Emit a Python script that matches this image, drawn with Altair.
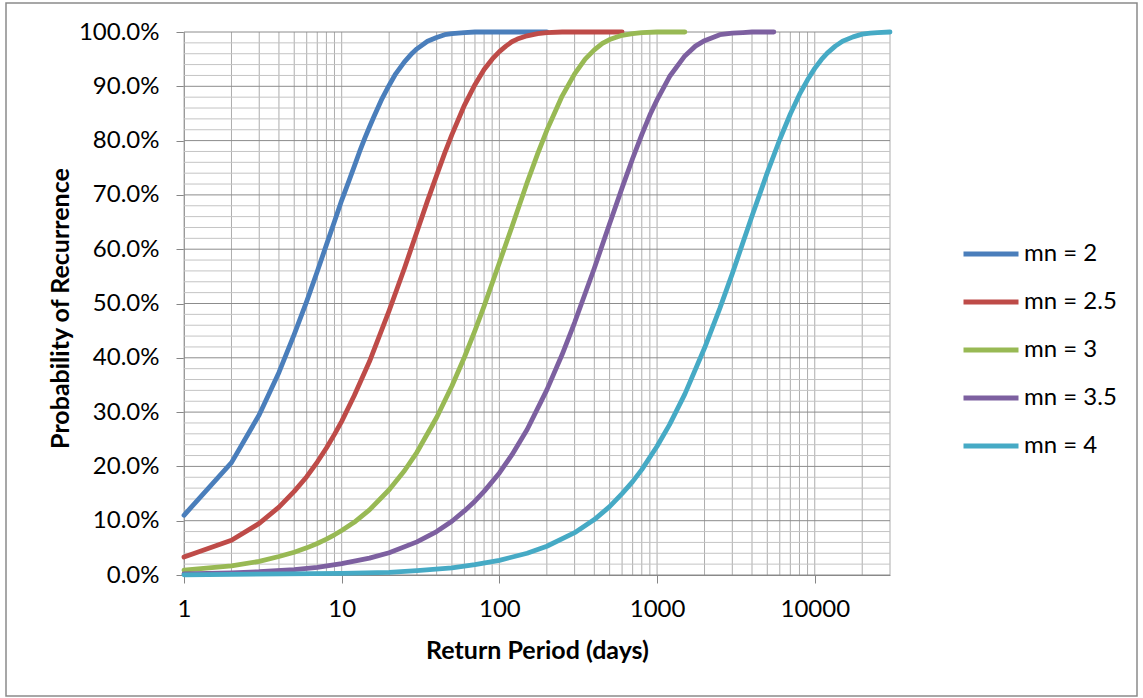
import altair as alt
import pandas as pd

# ---- data ----
SERIES = ["mn = 2", "mn = 2.5", "mn = 3", "mn = 3.5", "mn = 4"]
COLORS = ["#4A7EBB", "#BE4B48", "#98B954", "#7D60A0", "#46AAC5"]

T_MN2 = [1, 2, 3, 4, 5, 6, 7, 8, 9, 10, 11, 12, 13, 14, 15, 16, 18, 20, 22, 25, 28, 30, 35,
         40, 45, 50, 60, 70, 80, 100, 150, 200]
P_MN2 = [0.110, 0.207, 0.295, 0.373, 0.443, 0.504, 0.559, 0.608, 0.651, 0.690, 0.722, 0.752,
         0.780, 0.804, 0.825, 0.844, 0.877, 0.902, 0.923, 0.945, 0.961, 0.969, 0.983, 0.990,
         0.995, 0.997, 0.999, 1.0, 1.0, 1.0, 1.0, 1.0]

T_MN25 = [1, 2, 3, 4, 5, 6, 7, 8, 9, 10, 12, 15, 20, 25, 30, 35, 40, 45, 50, 60, 70, 80, 90,
          100, 110, 120, 130, 150, 175, 200, 250, 300, 400, 500, 600]
P_MN25 = [0.033, 0.064, 0.095, 0.125, 0.154, 0.181, 0.208, 0.234, 0.259, 0.283, 0.330, 0.393,
          0.487, 0.565, 0.632, 0.689, 0.736, 0.777, 0.811, 0.865, 0.903, 0.931, 0.950, 0.964,
          0.974, 0.982, 0.987, 0.993, 0.997, 0.999, 1.0, 1.0, 1.0, 1.0, 1.0]

T_MN3 = [1, 2, 3, 4, 5, 6, 7, 8, 9, 10, 12, 15, 20, 25, 30, 40, 50, 60, 70, 80, 100, 120,
         150, 175, 200, 250, 300, 350, 400, 450, 500, 600, 700, 800, 1000, 1200, 1500]
P_MN3 = [0.009, 0.017, 0.025, 0.034, 0.042, 0.050, 0.058, 0.066, 0.074, 0.082, 0.097, 0.120,
         0.157, 0.192, 0.226, 0.290, 0.348, 0.401, 0.450, 0.495, 0.575, 0.641, 0.723, 0.776,
         0.819, 0.882, 0.923, 0.950, 0.967, 0.979, 0.986, 0.994, 0.997, 0.999, 1.0, 1.0, 1.0]

T_MN35 = [1, 2, 3, 5, 7, 10, 15, 20, 30, 40, 50, 60, 70, 80, 100, 120, 150, 200, 250, 300,
          400, 500, 600, 700, 800, 900, 1000, 1200, 1500, 1750, 2000, 2500, 3000, 3500, 4000,
          5000, 5500]
P_MN35 = [0.002, 0.004, 0.006, 0.010, 0.014, 0.021, 0.031, 0.041, 0.061, 0.080, 0.099, 0.118,
          0.136, 0.154, 0.188, 0.221, 0.268, 0.341, 0.406, 0.465, 0.565, 0.647, 0.713, 0.767,
          0.811, 0.847, 0.875, 0.918, 0.956, 0.974, 0.984, 0.995, 0.998, 0.999, 1.0, 1.0, 1.0]

T_MN4 = [1, 10, 20, 30, 50, 70, 100, 150, 200, 300, 400, 500, 600, 700, 800, 1000, 1200, 1500,
         2000, 2500, 3000, 4000, 5000, 6000, 7000, 8000, 9000, 10000, 11000, 12000, 13500,
         15000, 17500, 20000, 22500, 25000, 30000]
P_MN4 = [0.0003, 0.003, 0.005, 0.008, 0.013, 0.019, 0.027, 0.040, 0.053, 0.078, 0.102, 0.126,
         0.150, 0.172, 0.194, 0.237, 0.277, 0.333, 0.418, 0.491, 0.555, 0.661, 0.741, 0.802,
         0.849, 0.885, 0.912, 0.933, 0.949, 0.961, 0.974, 0.983, 0.991, 0.996, 0.998, 0.999,
         1.0]

X_TICKS = [1, 10, 100, 1000, 10000]
X_GRID = [1, 2, 3, 4, 5, 6, 7, 8, 9, 10, 20, 30, 40, 50, 60, 70, 80, 90, 100, 200, 300, 400,
          500, 600, 700, 800, 900, 1000, 2000, 3000, 4000, 5000, 6000, 7000, 8000, 9000,
          10000, 20000, 30000]
Y_MAJOR = [0.0, 0.1, 0.2, 0.3, 0.4, 0.5, 0.6, 0.7, 0.8, 0.9, 1.0]
Y_MINOR = [0.02, 0.04, 0.06, 0.08, 0.12, 0.14, 0.16, 0.18, 0.22, 0.24, 0.26, 0.28, 0.32, 0.34,
           0.36, 0.38, 0.42, 0.44, 0.46, 0.48, 0.52, 0.54, 0.56, 0.58, 0.62, 0.64, 0.66, 0.68,
           0.72, 0.74, 0.76, 0.78, 0.82, 0.84, 0.86, 0.88, 0.92, 0.94, 0.96, 0.98]

FONT = "Lato"

rows = []
for name, ts, ps in zip(SERIES, [T_MN2, T_MN25, T_MN3, T_MN35, T_MN4],
                        [P_MN2, P_MN25, P_MN3, P_MN35, P_MN4]):
    for i, (t, p) in enumerate(zip(ts, ps)):
        rows.append({"series": name, "T": t, "P": p, "order": i})
df = pd.DataFrame(rows)

xscale = alt.Scale(type="log", domain=[1, 30000], nice=False)
yscale = alt.Scale(domain=[0, 1], nice=False)

X_AXIS = alt.Axis(
    values=X_TICKS, format="d", grid=False, tickSize=8, tickColor="#868686",
    domainColor="#868686", labelFont=FONT, labelFontSize=24, labelColor="#000000",
    labelPadding=14, labelFlush=False,
    title="Return Period (days)", titleFont=FONT, titleFontSize=25,
    titleFontWeight="bold", titleColor="#000000", titleY=75, titleBaseline="middle")
Y_AXIS = alt.Axis(
    values=Y_MAJOR, format=".1%", grid=False, tickSize=8, tickColor="#868686",
    domainColor="#868686", labelFont=FONT, labelFontSize=24, labelColor="#000000",
    labelPadding=17, labelFlush=False,
    title="Probability of Recurrence", titleFont=FONT, titleFontSize=25,
    titleFontWeight="bold", titleColor="#000000", titleAngle=270, titleX=-124,
    titleY=276, titleAlign="center", titleBaseline="middle")

xgrid = alt.Chart(pd.DataFrame({"T": X_GRID})).mark_rule(
    color="#ADADAD", strokeWidth=1
).encode(x=alt.X("T:Q", scale=xscale, axis=X_AXIS))

yminor = alt.Chart(pd.DataFrame({"P": Y_MINOR})).mark_rule(
    color="#C4C4C4", strokeWidth=1
).encode(y=alt.Y("P:Q", scale=yscale, axis=Y_AXIS))

ymajor = alt.Chart(pd.DataFrame({"P": Y_MAJOR})).mark_rule(
    color="#8C8C8C", strokeWidth=1
).encode(y=alt.Y("P:Q", scale=yscale, axis=Y_AXIS))

lines = alt.Chart(df).mark_line(
    strokeWidth=4.8, strokeCap="round", strokeJoin="round"
).encode(
    x=alt.X("T:Q", scale=xscale, axis=X_AXIS),
    y=alt.Y("P:Q", scale=yscale, axis=Y_AXIS),
    color=alt.Color("series:N", scale=alt.Scale(domain=SERIES, range=COLORS),
                    legend=alt.Legend(
                        title=None, orient="none", legendX=777, legendY=192,
                        symbolType="stroke", symbolSize=3025, symbolStrokeWidth=5,
                        labelFont=FONT, labelFontSize=24, labelColor="#000000",
                        labelOffset=3, rowPadding=6, padding=0)),
    order=alt.Order("order:Q"),
)

border = alt.Chart(pd.DataFrame({"a": [0]})).mark_rect(
    fill=None, stroke="#8A8A8A", strokeWidth=1.5, clip=False
).encode(x=alt.value(-178), x2=alt.value(953), y=alt.value(-29), y2=alt.value(664))

chart = alt.layer(xgrid, yminor, ymajor, lines, border).properties(
    width=706, height=543,
    autosize=alt.AutoSizeParams(type="none"),
    padding={"left": 184, "top": 32, "right": 253, "bottom": 123},
    background="white",
).configure_view(strokeWidth=0)

chart.save("out.html", embed_options={"renderer": "svg", "actions": False})
